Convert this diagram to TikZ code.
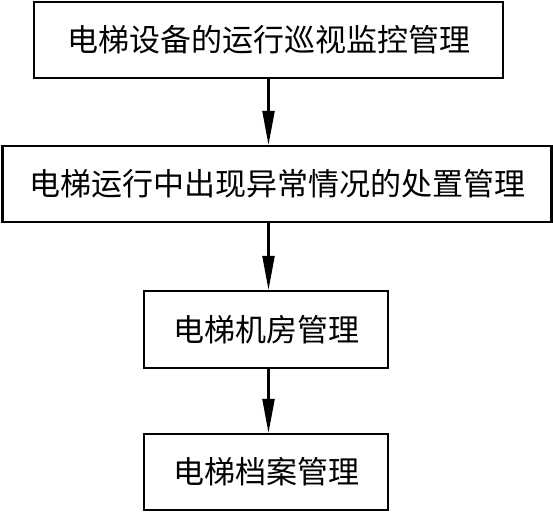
\documentclass[tikz,border=0pt]{standalone}
\usepackage{fontspec}
\setmainfont{Noto Sans CJK SC}
\usetikzlibrary{arrows.meta}
\begin{document}
\begin{tikzpicture}[x=1pt,y=1pt,
  boxstyle/.style={draw=black, line width=2.2pt, fill=white, inner sep=0pt,
    font=\fontsize{31pt}{34pt}\selectfont, align=center},
  arrowstyle/.style={line width=2.2pt, -{Triangle[length=34pt,width=12pt]}}]
\useasboundingbox (0,0) rectangle (553,512);
\node[boxstyle, minimum width=469pt, minimum height=76pt] (b1) at (268.5,472) {电梯设备的运行巡视监控管理};
\node[boxstyle, minimum width=549pt, minimum height=76pt] (b2) at (277,328) {电梯运行中出现异常情况的处置管理};
\node[boxstyle, minimum width=244pt, minimum height=77pt] (b3) at (266,182.5) {电梯机房管理};
\node[boxstyle, minimum width=244pt, minimum height=76pt] (b4) at (266,40) {电梯档案管理};
\draw[arrowstyle] (b1.south) -- (b1.south |- b2.north);
\draw[arrowstyle] (b2.south -| b1.south) -- (b3.north -| b1.south);
\draw[arrowstyle] (b3.south -| b1.south) -- (b4.north -| b1.south);
\end{tikzpicture}
\end{document}
